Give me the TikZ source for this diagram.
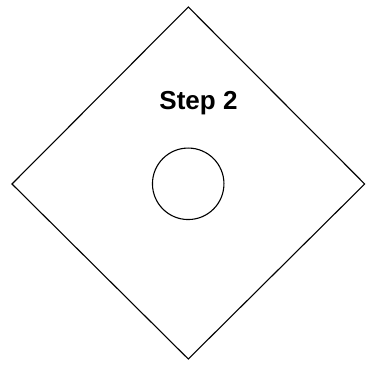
\documentclass[tikz,border=0pt]{standalone}
\usepackage{fontspec}
\setmainfont{Liberation Sans}
\usetikzlibrary{positioning}

\begin{document}
\begin{tikzpicture}[
  x=1pt, y=-1pt,
  edge/.style={draw, line width=1.1pt, line join=miter},
  hole/.style={draw, circle, line width=1.1pt, minimum size=71.5pt, inner sep=0pt},
  label/.style={font=\fontsize{26}{30}\selectfont\bfseries, inner sep=0pt}
]
\useasboundingbox (0,0) rectangle (371,366);

\coordinate (top) at (188.3, 7);
\coordinate (left) at (12, 184);
\coordinate (right) at (364.7, 184);
\coordinate (bottom) at (188.3, 359);

\node[hole] (hole) at (188.2, 183.8) {};
\node[label, anchor=base] (title) at (198.5, 110) {Step 2};

\draw[edge] (top) -- (right) -- (bottom) -- (left) -- cycle;
\end{tikzpicture}
\end{document}
